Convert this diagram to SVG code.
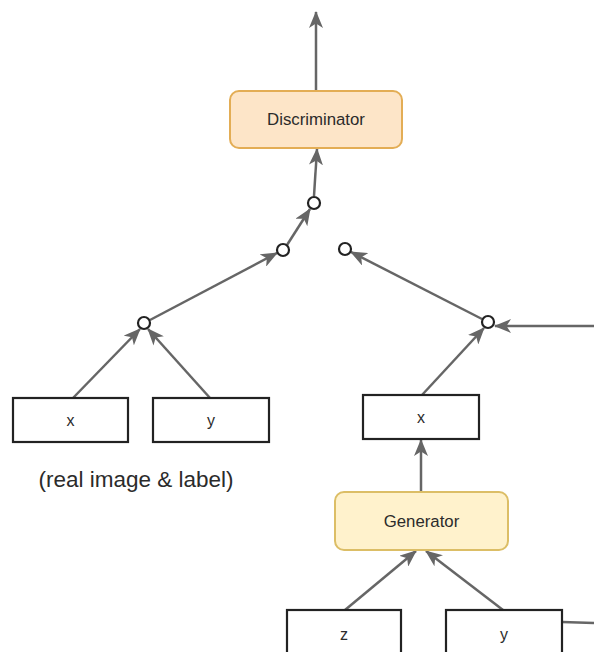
<svg xmlns="http://www.w3.org/2000/svg" width="594" height="652" viewBox="0 0 594 652">
<style>
.edge{stroke:#666;stroke-width:2.5;fill:none}
.arr{marker-end:url(#ah)}
.box{fill:#fff;stroke:#222;stroke-width:2.2}
.dot{fill:#fff;stroke:#222;stroke-width:2.2}
.t{font-family:"Liberation Sans",Arial,sans-serif;fill:#2b2b2b;text-anchor:middle}
</style>
<defs>
<marker id="ah" markerUnits="userSpaceOnUse" markerWidth="17" markerHeight="14" viewBox="0 0 17 14" refX="16" refY="7" orient="auto">
<path d="M0,0 L17,7 L0,14 L4.5,7 z" fill="#666"/>
</marker>
</defs>
<rect width="594" height="652" fill="#fff"/>
<g id="connectors">
<line class="edge arr" x1="316" y1="91" x2="316" y2="12"/>
<line class="edge arr" x1="314" y1="196" x2="317" y2="149"/>
<line class="edge arr" x1="287" y1="245" x2="310" y2="209"/>
<line class="edge arr" x1="150" y1="320" x2="277" y2="253"/>
<line class="edge arr" x1="482" y1="319" x2="351" y2="252"/>
<line class="edge arr" x1="594" y1="326" x2="495" y2="326"/>
<line class="edge arr" x1="422" y1="395" x2="484" y2="328"/>
<line class="edge arr" x1="73" y1="398" x2="140" y2="329"/>
<line class="edge arr" x1="210" y1="398" x2="148" y2="329"/>
<line class="edge arr" x1="421" y1="492" x2="421" y2="440"/>
<line class="edge arr" x1="345" y1="610" x2="416" y2="551"/>
<line class="edge arr" x1="503" y1="610" x2="426" y2="551"/>
<line class="edge" x1="562" y1="622" x2="594" y2="623"/>
</g>
<g id="discriminator">
<rect x="230" y="91" width="172" height="57" rx="9" fill="#fde5c8" stroke="#e3ad55" stroke-width="2"/>
<text class="t" x="316" y="125" font-size="16.8">Discriminator</text>
</g>
<g id="j1"><circle class="dot" cx="314" cy="203" r="6"/></g>
<g id="j2"><circle class="dot" cx="283" cy="250" r="6"/></g>
<g id="j3"><circle class="dot" cx="345" cy="249" r="6"/></g>
<g id="j4"><circle class="dot" cx="144" cy="323" r="6"/></g>
<g id="j5"><circle class="dot" cx="488" cy="322" r="6"/></g>
<g id="real-x">
<rect class="box" x="13" y="398" width="115" height="44"/>
<text class="t" x="70.5" y="426" font-size="16">x</text>
</g>
<g id="real-y">
<rect class="box" x="153" y="398" width="116" height="44"/>
<text class="t" x="211" y="426" font-size="16">y</text>
</g>
<g id="real-label">
<text class="t" x="136" y="487" font-size="22.5">(real image &amp; label)</text>
</g>
<g id="fake-x">
<rect class="box" x="363" y="395" width="116" height="44"/>
<text class="t" x="421" y="423" font-size="16">x</text>
</g>
<g id="generator">
<rect x="335" y="492" width="173" height="58" rx="9" fill="#fff2cc" stroke="#dcbe66" stroke-width="2"/>
<text class="t" x="421.5" y="527" font-size="16.8">Generator</text>
</g>
<g id="z">
<rect class="box" x="287" y="610" width="114" height="50"/>
<text class="t" x="344" y="640" font-size="16">z</text>
</g>
<g id="gen-y">
<rect class="box" x="446" y="610" width="116" height="50"/>
<text class="t" x="504" y="640" font-size="16">y</text>
</g>
</svg>
